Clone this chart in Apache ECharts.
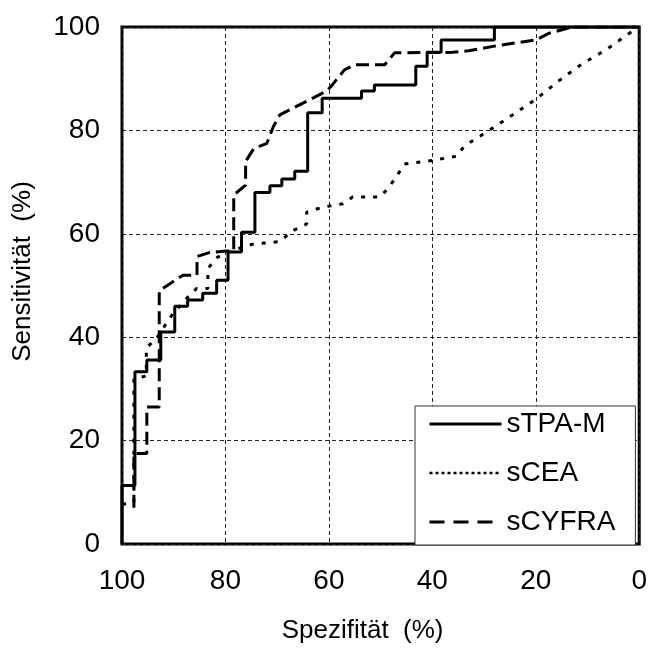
<!DOCTYPE html>
<html>
<head>
<meta charset="utf-8">
<script src="https://cdn.jsdelivr.net/npm/echarts@6/dist/echarts.min.js"></script>
<style>html,body{margin:0;padding:0;background:#fff;}#c{width:650px;height:649px;}</style>
</head>
<body>
<div id="c"></div>
<script>
const seriesNames = ['sTPA-M', 'sCEA', 'sCYFRA'];
const xTicks = [0, 20, 40, 60, 80, 100];
const yTicks = [0, 20, 40, 60, 80, 100];
// [Spezifität, Sensitivität]
const sTPAM = [[100,0],[100,11.3],[97.5,11.3],[97.5,33.3],[95.2,33.3],[95.2,35.6],[92.5,35.6],[92.5,41],[89.8,41],[89.8,46],[87.3,46],[87.3,47.2],[84.4,47.2],[84.4,48.5],[81.7,48.5],[81.7,51],[79.5,51],[79.5,56.5],[76.9,56.5],[76.9,60.3],[74.3,60.3],[74.3,68],[71.4,68],[71.4,69.3],[69.1,69.3],[69.1,70.6],[66.6,70.6],[66.6,72.1],[64.1,72.1],[64.1,83.4],[61.3,83.4],[61.3,86.2],[53.7,86.2],[53.7,87.6],[51.2,87.6],[51.2,88.8],[43.2,88.8],[43.2,92.4],[41,92.4],[41,95.1],[38.3,95.1],[38.3,97.5],[28,97.5],[28,100],[0,100]];
const sCEA = [[100,7.7],[97.7,8],[97.7,32],[95.3,32.5],[95.3,38],[93.5,39.5],[90.4,44.2],[87.5,47.5],[85.6,49.4],[83.4,49.4],[83.4,53.3],[81.5,55.5],[78,57],[74.7,58],[69.5,58.5],[67,60.6],[64.3,61.9],[64.3,64.2],[62.4,64.8],[59.8,65.4],[57.3,65.8],[55.4,67.1],[50.2,67.1],[48.6,68.7],[47,71],[45.4,73.5],[40,74.2],[35.3,75],[33.8,77],[29,80],[24.5,83],[20,86],[15.4,89.7],[11,92.9],[6.4,95.6],[1.9,98.8],[0,100]];
const sCYFRA = [[97.7,7],[97.7,17.5],[95.2,17.5],[95.2,26.5],[92.8,26.5],[92.8,49],[90.5,50.5],[88.2,52],[85.5,52],[85.5,55.6],[83,56.4],[78.4,56.8],[78.4,67.5],[76.1,69.4],[76.1,74],[74.5,76.5],[72,77.5],[70.7,80.8],[69.5,83],[63,86.3],[60.5,87.6],[59.6,88.5],[57,91.7],[55,92.7],[49.2,92.7],[47.3,95],[36,95.1],[33,95.4],[28,96.3],[20,97.5],[17.4,98.8],[13,100],[0,100]];

const FONT = '"Liberation Sans", Arial, Helvetica, sans-serif';
const chart = echarts.init(document.getElementById('c'), null, {renderer: 'canvas'});
const gridLine = {show: true, lineStyle: {color: '#222', width: 1, type: [4, 3]}};
chart.setOption({
  animation: false,
  backgroundColor: '#fff',
  textStyle: {fontFamily: FONT, color: '#000'},
  grid: {left: 122, right: 10, top: 27, bottom: 102, show: true, borderColor: '#000', borderWidth: 3, backgroundColor: 'transparent'},
  xAxis: {
    type: 'value', inverse: true, min: xTicks[0], max: xTicks[xTicks.length - 1], interval: 20,
    name: 'Spezifität  (%)', nameLocation: 'middle', nameGap: 74,
    nameTextStyle: {fontSize: 26, color: '#000', fontFamily: FONT, padding: [0, 36, 0, 0]},
    axisLine: {show: false}, axisTick: {show: false},
    axisLabel: {fontSize: 28, color: '#000', margin: 23, fontFamily: FONT},
    splitLine: gridLine
  },
  yAxis: {
    type: 'value', min: yTicks[0], max: yTicks[yTicks.length - 1], interval: 20,
    name: 'Sensitivität  (%)', nameLocation: 'middle', nameGap: 86,
    nameTextStyle: {fontSize: 26, color: '#000', fontFamily: FONT, padding: [0, 0, 0, 28]},
    axisLine: {show: false}, axisTick: {show: false},
    axisLabel: {fontSize: 28, color: '#000', margin: 22, fontFamily: FONT},
    splitLine: gridLine
  },
  legend: {
    orient: 'vertical', left: 415, top: 406,
    padding: [4, 20, 9, 13], itemGap: 21, itemWidth: 72, itemHeight: 14,
    backgroundColor: '#fff', borderColor: '#333', borderWidth: 1, borderRadius: 0,
    textStyle: {fontSize: 28, color: '#000', lineHeight: 26, fontFamily: FONT},
    itemStyle: {opacity: 0, color: 'transparent', borderWidth: 0},
    data: [
      {name: seriesNames[0], lineStyle: {width: 3, type: 'solid', color: '#000'}},
      {name: seriesNames[1], lineStyle: {width: 2.5, type: [3, 3], color: '#000'}},
      {name: seriesNames[2], lineStyle: {width: 3, type: [15, 9], color: '#000'}}
    ]
  },
  series: [
    {name: seriesNames[0], type: 'line', data: sTPAM, symbol: 'none', lineStyle: {color: '#000', width: 3, type: 'solid'}, itemStyle: {color: '#000'}},
    {name: seriesNames[1], type: 'line', data: sCEA, symbol: 'none', lineStyle: {color: '#000', width: 3, type: [4, 8]}, itemStyle: {color: '#000'}},
    {name: seriesNames[2], type: 'line', data: sCYFRA, symbol: 'none', lineStyle: {color: '#000', width: 3, type: [13, 6]}, itemStyle: {color: '#000'}}
  ]
});
</script>
</body>
</html>
